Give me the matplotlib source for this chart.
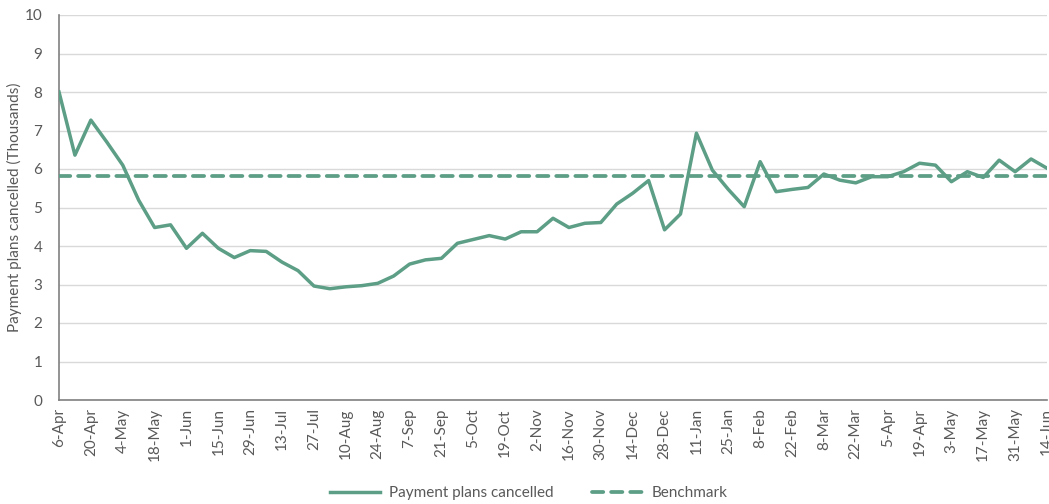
import matplotlib.pyplot as plt

plt.rcParams['font.family'] = ['Lato', 'DejaVu Sans']

# weekly values, 6-Apr to 14-Jun (thousands)
cancelled = [8.0, 6.36, 7.27, 6.7, 6.1, 5.19, 4.48, 4.55, 3.94, 4.33,
             3.94, 3.70, 3.88, 3.86, 3.58, 3.36, 2.96, 2.89, 2.94, 2.97,
             3.03, 3.22, 3.53, 3.64, 3.68, 4.07, 4.17, 4.27, 4.18, 4.37,
             4.37, 4.72, 4.48, 4.59, 4.61, 5.09, 5.37, 5.70, 4.42, 4.83,
             6.93, 5.97, 5.47, 5.02, 6.19, 5.41, 5.47, 5.52, 5.87, 5.71,
             5.64, 5.80, 5.80, 5.93, 6.15, 6.10, 5.67, 5.93, 5.78, 6.23,
             5.93, 6.26, 6.02]
benchmark = 5.82

tick_labels = ['6-Apr', '20-Apr', '4-May', '18-May', '1-Jun', '15-Jun', '29-Jun',
               '13-Jul', '27-Jul', '10-Aug', '24-Aug', '7-Sep', '21-Sep', '5-Oct',
               '19-Oct', '2-Nov', '16-Nov', '30-Nov', '14-Dec', '28-Dec', '11-Jan',
               '25-Jan', '8-Feb', '22-Feb', '8-Mar', '22-Mar', '5-Apr', '19-Apr',
               '3-May', '17-May', '31-May', '14-Jun']

green = '#5c9e86'
grey_txt = '#595959'

fig = plt.figure(figsize=(10.49, 5.04), dpi=100)
ax = fig.add_axes([59 / 1049, 104 / 504, 988 / 1049, 385 / 504])

weeks = list(range(len(cancelled)))
ax.plot(weeks, cancelled, color=green, lw=2.5, label='Payment plans cancelled',
        solid_joinstyle='round', zorder=3)
ax.plot(weeks, [benchmark] * len(weeks), color=green, lw=2.7, ls=(0, (3.0, 2.1)),
        dash_capstyle='round', label='Benchmark', zorder=3)

ax.set_xlim(0, len(weeks) - 1)
ax.set_ylim(0, 10)
ax.set_yticks(range(0, 11))
ax.set_xticks(range(0, len(weeks), 2))
ax.set_xticklabels(tick_labels, rotation=90)
ax.tick_params(axis='both', length=0, colors=grey_txt, labelsize=11)
ax.tick_params(axis='x', pad=6)
ax.tick_params(axis='y', pad=12)

ax.grid(axis='y', color='#d9d9d9', lw=1)
ax.set_axisbelow(True)
for s in ['top', 'right']:
    ax.spines[s].set_visible(False)
for s in ['left', 'bottom']:
    ax.spines[s].set_color('#808080')
    ax.spines[s].set_linewidth(1.2)

ax.set_ylabel('Payment plans cancelled (Thousands)', color=grey_txt, fontsize=11, labelpad=2)

fig.legend(loc='lower center', bbox_to_anchor=(0.504, -0.02), ncol=2, frameon=False,
           fontsize=11, handlelength=3.3, handletextpad=0.6, columnspacing=2.5,
           labelcolor=grey_txt)

fig.savefig('out.png', dpi=100)
